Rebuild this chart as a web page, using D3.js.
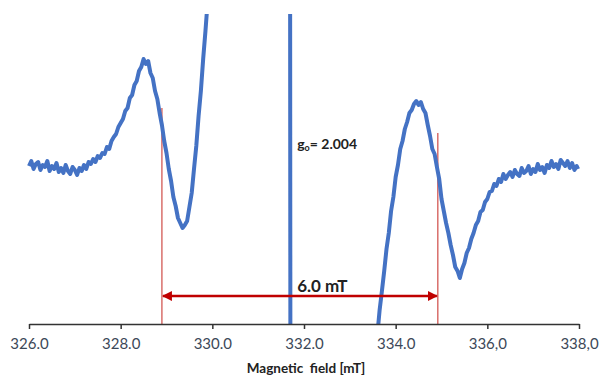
<!DOCTYPE html>
<html>
<head>
<meta charset="utf-8">
<script src="https://cdn.jsdelivr.net/npm/d3@7"></script>
<style>
  body { margin: 0; background: #fff; }
  text { font-family: Lato, "Open Sans", sans-serif; }
</style>
</head>
<body>
<div id="chart"></div>
<script>
// Spectrum: [field mT, intensity (arb.)]
const leftBranch = [
  [326.00,-1],[326.05,4],[326.10,-4],[326.15,1],[326.20,3],[326.25,-5],[326.30,0],[326.35,-2],
  [326.40,4],[326.45,-6],[326.50,-1],[326.55,-4],[326.60,2],[326.65,-7],[326.70,-3],[326.75,-8],
  [326.80,0],[326.85,-6],[326.90,-9],[326.95,-2],[327.00,-5],[327.05,-10],[327.10,-3],[327.15,-6],
  [327.20,0],[327.25,-4],[327.30,3],[327.35,1],[327.40,6],[327.45,3],[327.50,9],[327.55,7],
  [327.60,12],[327.65,11],[327.70,18],[327.75,16],[327.80,24],[327.85,28],[327.90,31],[327.95,38],
  [328.00,42],[328.05,46],[328.10,54],[328.15,57],[328.20,67],[328.25,70],[328.30,80],[328.35,84],
  [328.40,94],[328.45,98],[328.50,106],[328.55,101],[328.60,104],[328.65,92],[328.70,87],[328.75,74],
  [328.80,66],[328.85,52],[328.90,40],[328.95,24],[329.00,12],[329.05,-4],[329.10,-16],[329.15,-32],
  [329.20,-41],[329.25,-53],[329.30,-58],[329.35,-63],[329.40,-60],[329.45,-56],[329.50,-42],[329.55,-28],
  [329.60,-4],[329.65,19],[329.70,49],[329.75,74],[329.80,106],[329.85,134],[329.90,165],[329.95,205]
];
// off-scale centre line (goes far above and below the frame)
const centreLine = [[331.69,600],[331.71,-600]];
const rightBranch = [
  [333.60,-170],[333.65,-145],[333.70,-126],[333.75,-106],[333.80,-84],[333.85,-68],[333.90,-46],[333.95,-32],
  [334.00,-12],[334.05,0],[334.10,16],[334.15,24],[334.20,36],[334.25,43],[334.30,52],[334.35,55],
  [334.40,61],[334.45,64],[334.50,60],[334.55,63],[334.60,56],[334.65,52],[334.70,40],[334.75,29],
  [334.80,16],[334.85,11],[334.90,-2],[334.95,-14],[335.00,-34],[335.05,-46],[335.10,-58],[335.15,-68],
  [335.20,-80],[335.25,-90],[335.30,-102],[335.35,-106],[335.40,-113],[335.45,-104],[335.50,-98],[335.55,-88],
  [335.60,-83],[335.65,-74],[335.70,-68],[335.75,-60],[335.80,-56],[335.85,-47],[335.90,-45],[335.95,-37],
  [336.00,-34],[336.05,-27],[336.10,-26],[336.15,-19],[336.20,-21],[336.25,-14],[336.30,-17],[336.35,-9],
  [336.40,-14],[336.45,-10],[336.50,-7],[336.55,-12],[336.60,-5],[336.65,-9],[336.70,-11],[336.75,-3],
  [336.80,-8],[336.85,-6],[336.90,-1],[336.95,-9],[337.00,-4],[337.05,-7],[337.10,1],[337.15,-5],
  [337.20,-2],[337.25,-8],[337.30,0],[337.35,-3],[337.40,4],[337.45,-2],[337.50,1],[337.55,-4],
  [337.60,5],[337.65,2],[337.70,-1],[337.75,4],[337.80,-3],[337.85,2],[337.90,-5],[337.95,-1],[337.98,-4]
];

const tickValues = [326, 328, 330, 332, 334, 336, 338];
const tickLabels = ["326.0", "328.0", "330.0", "332.0", "334.0", "336,0", "338,0"];

// marker lines and the 6.0 mT span
const markers = [{field: 328.9, top: 57}, {field: 334.92, top: 32}];
const spanY = -131;

const width = 600, height = 380;
const margin = {top: 14, right: 21, bottom: 56, left: 29};

const svg = d3.select("#chart").append("svg")
    .attr("width", width)
    .attr("height", height);

const x = d3.scaleLinear()
    .domain([326, 338])
    .range([margin.left, width - margin.right]);

const y = d3.scaleLinear()
    .domain([-159, 151])
    .range([height - margin.bottom, margin.top]);

svg.append("defs").append("clipPath")
    .attr("id", "plot")
  .append("rect")
    .attr("x", 0)
    .attr("y", margin.top)
    .attr("width", width)
    .attr("height", height - margin.bottom - margin.top);

svg.append("defs").append("marker")
    .attr("id", "head")
    .attr("viewBox", "0 0 10 10")
    .attr("refX", 9).attr("refY", 5)
    .attr("markerWidth", 4).attr("markerHeight", 4)
    .attr("orient", "auto-start-reverse")
  .append("path")
    .attr("d", "M0,0L10,5L0,10z")
    .attr("fill", "#c00000");

// red marker lines
svg.append("g")
  .selectAll("line")
  .data(markers)
  .join("line")
    .attr("x1", d => x(d.field)).attr("x2", d => x(d.field))
    .attr("y1", d => y(d.top)).attr("y2", y(-159))
    .attr("stroke", "#cf4a45")
    .attr("stroke-width", 1.2);

const line = d3.line()
    .x(d => x(d[0]))
    .y(d => y(d[1]));

svg.append("path")
    .datum(leftBranch.concat(centreLine, rightBranch))
    .attr("clip-path", "url(#plot)")
    .attr("fill", "none")
    .attr("stroke", "#4472c4")
    .attr("stroke-width", 4)
    .attr("stroke-linejoin", "round")
    .attr("d", line);

// span arrow
svg.append("line")
    .attr("x1", x(markers[0].field) + 1).attr("x2", x(markers[1].field) - 1)
    .attr("y1", y(spanY)).attr("y2", y(spanY))
    .attr("stroke", "#c00000")
    .attr("stroke-width", 2.5)
    .attr("marker-start", "url(#head)")
    .attr("marker-end", "url(#head)");

svg.append("text")
    .attr("x", x(331.72) + 6)
    .attr("y", y(spanY) - 4)
    .attr("font-size", 17)
    .attr("font-weight", "bold")
    .attr("fill", "#222")
    .text("6.0 mT");

const g0 = svg.append("text")
    .attr("x", x(331.72) + 6)
    .attr("y", 149)
    .attr("font-size", 14)
    .attr("font-weight", "bold")
    .attr("fill", "#222");
g0.append("tspan").text("g");
g0.append("tspan").attr("font-size", 9).attr("dy", 2).text("o");
g0.append("tspan").attr("dy", -2).text("= 2.004");

// x axis
const axis = svg.append("g")
    .attr("transform", `translate(0,${y(-159)})`)
    .call(d3.axisBottom(x)
        .tickValues(tickValues)
        .tickFormat((d, i) => tickLabels[i])
        .tickSize(5)
        .tickSizeOuter(0)
        .tickPadding(9));
axis.select(".domain").attr("stroke", "#333").attr("stroke-width", 1.5);
axis.selectAll(".tick line").attr("stroke", "#333").attr("stroke-width", 1.5);
axis.selectAll(".tick text")
    .attr("font-size", 15)
    .attr("fill", "#3c4858")
    .style("font-family", "Lato, sans-serif");

svg.append("text")
    .attr("x", 306)
    .attr("y", 373)
    .attr("text-anchor", "middle")
    .attr("font-size", 13.5)
    .attr("font-weight", "bold")
    .attr("fill", "#222")
    .attr("xml:space", "preserve")
    .text("Magnetic  field [mT]");
</script>
</body>
</html>
